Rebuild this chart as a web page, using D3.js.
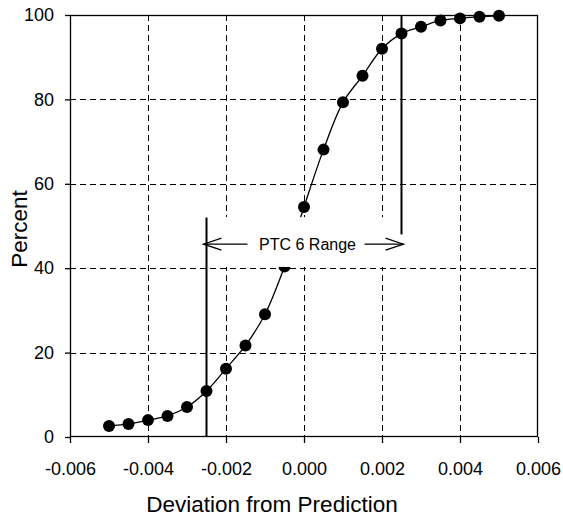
<!DOCTYPE html>
<html>
<head>
<meta charset="utf-8">
<script src="https://cdn.jsdelivr.net/npm/d3@7"></script>
<style>
  body { margin: 0; background: #fff; }
  text { font-family: "Liberation Sans", Arial, sans-serif; fill: #000; }
</style>
</head>
<body>
<script>

// data
var deviation = [-0.005, -0.0045, -0.004, -0.0035, -0.003, -0.0025, -0.002, -0.0015, -0.001, -0.0005,
                 0.0, 0.0005, 0.001, 0.0015, 0.002, 0.0025, 0.003, 0.0035, 0.004, 0.0045, 0.005];
var percent = [2.6, 3.1, 4.0, 5.0, 7.1, 10.9, 16.2, 21.7, 29.1, 40.4,
               54.5, 68.1, 79.3, 85.6, 92.0, 95.6, 97.2, 98.7, 99.2, 99.6, 99.8];

var xTicks = [-0.006, -0.004, -0.002, 0.0, 0.002, 0.004, 0.006];
var yTicks = [0, 20, 40, 60, 80, 100];

// PTC 6 range markers: [x, from %, to %]
var rangeLines = [[-0.0025, 0, 52], [0.0025, 48, 100]];
var rangeLabel = "PTC 6 Range";
var rangeArrowY = 45.7;

var W = 563, H = 517;
var margin = {top: 15, right: 25, bottom: 80, left: 70},
    width = W - margin.left - margin.right,
    height = H - margin.top - margin.bottom;

var svg = d3.select("body").append("svg")
    .attr("width", W)
    .attr("height", H);

var g = svg.append("g")
    .attr("transform", "translate(" + margin.left + "," + margin.top + ")");

var x = d3.scaleLinear().domain([-0.006, 0.006]).range([0, width]);
var y = d3.scaleLinear().domain([0, 100]).range([height, 0]);

var fmt = function(d) { return d3.format(".3f")(d).replace("\u2212", "-"); };
var px = function(v) { return Math.round(v) + 0.5; };

// dashed grid
g.selectAll(".gx")
  .data(xTicks.slice(1, -1))
  .enter().append("line")
    .attr("x1", function(d) { return px(x(d)); })
    .attr("x2", function(d) { return px(x(d)); })
    .attr("y1", 0)
    .attr("y2", height)
    .attr("stroke", "#000")
    .attr("stroke-width", 1)
    .attr("stroke-dasharray", "6,4");

g.selectAll(".gy")
  .data(yTicks.slice(1, -1))
  .enter().append("line")
    .attr("y1", function(d) { return px(y(d)); })
    .attr("y2", function(d) { return px(y(d)); })
    .attr("x1", 0)
    .attr("x2", width)
    .attr("stroke", "#000")
    .attr("stroke-width", 1)
    .attr("stroke-dasharray", "6,4");

// curve + points
var line = d3.line()
    .x(function(d, i) { return x(deviation[i]); })
    .y(function(d) { return y(d); })
    .curve(d3.curveCatmullRom.alpha(0.5));

g.append("path")
    .datum(percent)
    .attr("d", line)
    .attr("fill", "none")
    .attr("stroke", "#000")
    .attr("stroke-width", 1.3);

g.selectAll(".pt")
  .data(percent)
  .enter().append("circle")
    .attr("cx", function(d, i) { return x(deviation[i]); })
    .attr("cy", function(d) { return y(d); })
    .attr("r", 6)
    .attr("fill", "#000");

// white label box (covers grid and curve)
g.append("rect")
    .attr("x", x(-0.0029))
    .attr("y", y(52.1))
    .attr("width", x(0.0029) - x(-0.0029))
    .attr("height", y(40.3) - y(52.1))
    .attr("fill", "#fff");

// range marker lines
g.selectAll(".rl")
  .data(rangeLines)
  .enter().append("line")
    .attr("x1", function(d) { return x(d[0]); })
    .attr("x2", function(d) { return x(d[0]); })
    .attr("y1", function(d) { return y(d[1]); })
    .attr("y2", function(d) { return y(d[2]); })
    .attr("stroke", "#000")
    .attr("stroke-width", 2);

// arrows
var ay = y(rangeArrowY);
var xl = x(rangeLines[0][0]) - 3, xr = x(rangeLines[1][0]) + 2;
var arrows = g.append("g")
    .attr("stroke", "#000")
    .attr("stroke-width", 1.2)
    .attr("fill", "none");
arrows.append("path").attr("d", "M" + xl + "," + ay + " H" + (xl + 44));
arrows.append("path").attr("d", "M" + (xl + 18) + "," + (ay - 6) + " L" + xl + "," + ay + " L" + (xl + 18) + "," + (ay + 6));
arrows.append("path").attr("d", "M" + (xr - 39) + "," + ay + " H" + xr);
arrows.append("path").attr("d", "M" + (xr - 18) + "," + (ay - 6) + " L" + xr + "," + ay + " L" + (xr - 18) + "," + (ay + 6));

g.append("text")
    .attr("x", (xl + xr) / 2 + 4)
    .attr("y", ay)
    .attr("dy", "0.36em")
    .attr("text-anchor", "middle")
    .style("font-size", "16px")
    .text(rangeLabel);

// frame
g.append("rect")
    .attr("x", 0.5)
    .attr("y", 0.5)
    .attr("width", width - 1)
    .attr("height", height - 1)
    .attr("fill", "none")
    .attr("stroke", "#000")
    .attr("stroke-width", 1.3);

// axes
var xAxis = g.append("g")
    .attr("transform", "translate(0," + height + ")")
    .call(d3.axisBottom(x).tickValues(xTicks).tickFormat(fmt).tickSize(6).tickPadding(19));
var yAxis = g.append("g")
    .call(d3.axisLeft(y).tickValues(yTicks).tickSize(5).tickPadding(11));

[xAxis, yAxis].forEach(function(a) {
  a.select(".domain").remove();
  a.selectAll("line").attr("stroke", "#000").attr("stroke-width", 1.3);
  a.selectAll("text")
    .attr("font-family", "'Liberation Sans', Arial, sans-serif")
    .attr("font-size", "18px")
    .attr("fill", "#000");
});

// titles
svg.append("text")
    .attr("x", 272)
    .attr("y", 511.5)
    .attr("text-anchor", "middle")
    .style("font-size", "22.5px")
    .text("Deviation from Prediction");

svg.append("text")
    .attr("transform", "translate(27,229) rotate(-90)")
    .attr("text-anchor", "middle")
    .style("font-size", "22.5px")
    .text("Percent");

</script>
</body>
</html>
